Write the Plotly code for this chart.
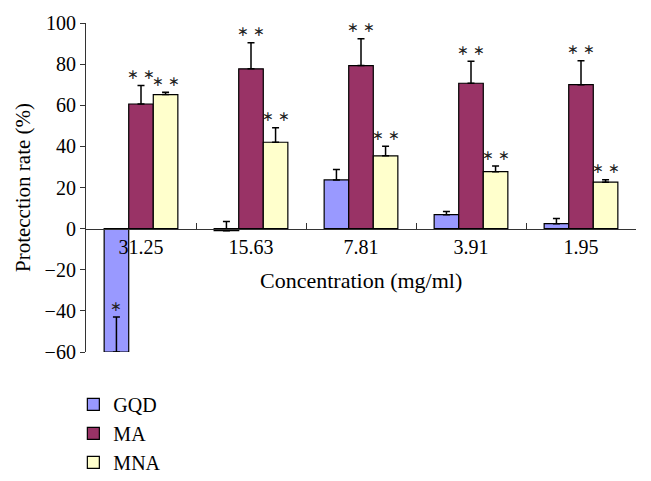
import plotly.graph_objects as go

categories = ["31.25", "15.63", "7.81", "3.91", "1.95"]
gqd = [-60, -1, 23.7, 6.8, 2.4]
gqd_err = [17, 4.5, 5, 1.5, 2.5]
ma = [60.6, 77.7, 79.3, 70.7, 70]
ma_err = [9, 12.7, 13, 10.7, 11.7]
mna = [65.2, 42, 35.4, 27.7, 22.6]
mna_err = [1.1, 7, 4.7, 2.7, 1.2]
sig_gqd = ["∗", "", "", "", ""]
sig_ma = ["∗ ∗"] * 5
sig_mna = ["∗ ∗"] * 5
yticks = [-60, -40, -20, 0, 20, 40, 60, 80, 100]

FONT = "Liberation Serif"
fig = go.Figure()
series = [
    ("GQD", gqd, gqd_err, "#9999FF"),
    ("MA", ma, ma_err, "#993366"),
    ("MNA", mna, mna_err, "#FFFFCC"),
]
for name, vals, errs, col in series:
    fig.add_trace(go.Bar(
        name=name, x=categories, y=vals,
        marker=dict(color=col, line=dict(color="black", width=1.2)),
        error_y=dict(type="data", symmetric=False, array=errs,
                     arrayminus=[0] * len(errs), color="black",
                     thickness=1.5, width=3.5),
    ))

bargap = 0.33
bw = (1 - bargap) / 3
annotations = []
for k, (sigs, vals, errs) in enumerate([(sig_gqd, gqd, gqd_err), (sig_ma, ma, ma_err), (sig_mna, mna, mna_err)]):
    off = (k - 1) * bw
    for i, s in enumerate(sigs):
        if not s:
            continue
        annotations.append(dict(
            x=i + off, y=vals[i] + errs[i], xref="x", yref="y",
            text=s, showarrow=False, yanchor="middle", yshift=11,
            font=dict(family=FONT, size=14, color="#222"),
        ))
annotations.append(dict(
    x=0.5, y=(352 - 280) / 329, xref="paper", yref="paper",
    text="Concentration (mg/ml)", showarrow=False, yanchor="middle",
    font=dict(family=FONT, size=22, color="black"),
))

fig.update_layout(
    width=651, height=481,
    margin=dict(l=86, r=15, t=23, b=129, autoexpand=False),
    paper_bgcolor="white", plot_bgcolor="white",
    barmode="group", bargap=bargap, bargroupgap=0,
    font=dict(family=FONT, size=20, color="black"),
    showlegend=True,
    legend=dict(x=-0.023, xanchor="left", y=-0.1, yanchor="top",
                font=dict(family=FONT, size=20), bgcolor="rgba(0,0,0,0)",
                tracegroupgap=0),
    annotations=annotations,
    xaxis=dict(
        type="category", range=[-0.5, 4.5],
        anchor="free", position=60 / 160,
        showline=True, linecolor="#333", linewidth=1.2,
        ticks="inside", tickson="boundaries", ticklen=6, tickcolor="#333",
        showgrid=False, zeroline=False,
        tickfont=dict(family=FONT, size=20),
    ),
    yaxis=dict(
        range=[-60, 100], tickvals=yticks, domain=[0, 1],
        showline=True, linecolor="#333", linewidth=1.2,
        ticks="outside", ticklen=5, tickcolor="#333",
        showgrid=False, zeroline=False,
        tickfont=dict(family=FONT, size=20),
        title=dict(text="Protecction rate (%)", font=dict(family=FONT, size=21), standoff=8),
    ),
)
fig.write_html("out.html", config={"displayModeBar": False},
               post_script="document.body.style.margin='0';")
